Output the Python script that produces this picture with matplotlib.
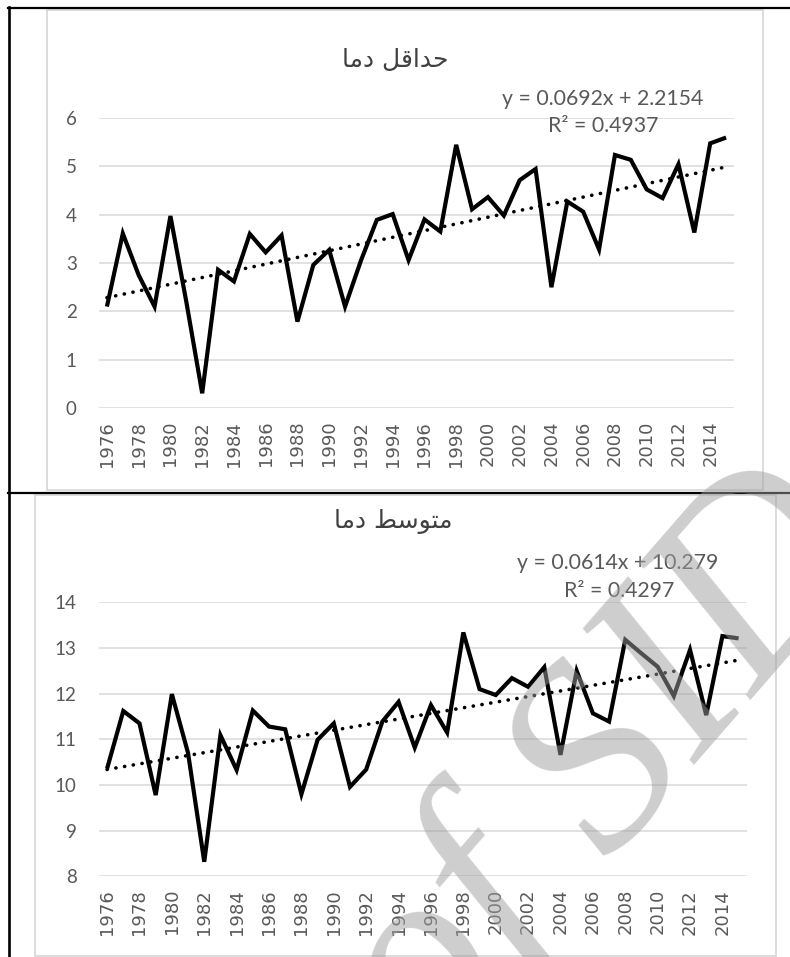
import numpy as np
import matplotlib
matplotlib.use("Agg")
import matplotlib.pyplot as plt
from matplotlib.patches import Rectangle
from matplotlib.lines import Line2D

# ---------------- data ----------------
years = list(range(1976, 2016))
tick_years = list(range(1976, 2016, 2))

min_temp = [2.10, 3.61, 2.75, 2.10, 3.97, 2.20, 0.31, 2.86, 2.62, 3.60,
            3.22, 3.57, 1.79, 2.96, 3.27, 2.10, 3.05, 3.89, 4.01, 3.06,
            3.90, 3.65, 5.44, 4.11, 4.36, 3.98, 4.71, 4.94, 2.50, 4.27,
            4.06, 3.28, 5.23, 5.13, 4.52, 4.34, 5.04, 3.63, 5.47, 5.59]

mean_temp = [10.36, 11.62, 11.35, 9.78, 11.99, 10.70, 8.32, 11.09, 10.33, 11.63,
             11.28, 11.22, 9.80, 10.99, 11.35, 9.96, 10.34, 11.39, 11.82, 10.82,
             11.75, 11.15, 13.34, 12.10, 11.97, 12.34, 12.15, 12.58, 10.66, 12.50,
             11.57, 11.39, 13.18, 12.88, 12.59, 11.95, 12.96, 11.53, 13.26, 13.21]

# trend-line coefficients as printed on the chart
min_slope, min_intercept, min_r2 = 0.0692, 2.2154, 0.4937
mean_slope, mean_intercept, mean_r2 = 0.0614, 10.279, 0.4297

title_min = "\uFE8E\uFEE3\uFEA9 \uFEDE\uFED7\uFE8D\uFEAA\uFEA3"    # حداقل دما (visual order, shaped)
title_mean = "\uFE8E\uFEE3\uFEA9 \uFEC2\uFEB3\uFEEE\uFE98\uFEE3"   # متوسط دما (visual order, shaped)
watermark = "of SID"

# ---------------- figure ----------------
W, H = 790, 957
fig = plt.figure(figsize=(W / 100, H / 100), dpi=100)
fig.patch.set_facecolor("white")

def fx(px):
    return px / W

def fy(py):
    return 1 - py / H

GRID = "#d9d9d9"
TXT = "#595959"

# chart frames
fig.patches.append(Rectangle((fx(47), fy(490)), fx(763) - fx(47), fy(9.5) - fy(490),
                             transform=fig.transFigure, fill=False, edgecolor=GRID, lw=1.3, zorder=0))
fig.patches.append(Rectangle((fx(35), fy(955.5)), fx(776) - fx(35), fy(495) - fy(955.5),
                             transform=fig.transFigure, fill=False, edgecolor=GRID, lw=1.3, zorder=0))

# table lines
fig.lines.append(Line2D([fx(9), fx(9)], [0, fy(7)], transform=fig.transFigure, color="black", lw=1.9))
fig.lines.append(Line2D([fx(8), 1], [fy(7.5), fy(7.5)], transform=fig.transFigure, color="black", lw=1.6))
fig.lines.append(Line2D([fx(8), 1], [fy(493), fy(493)], transform=fig.transFigure, color="black", lw=1.6))


def make_panel(rect, values, ylim, yticks, slope, intercept, r2, title, title_xy, eq_xy, r2_xy):
    ax = fig.add_axes(rect)
    x = np.arange(len(years))
    ax.plot(x, values, color="black", lw=3.0, solid_joinstyle="miter", solid_capstyle="butt", zorder=3)
    trend = intercept + slope * (x + 1)
    ax.plot(x, trend, color="black", lw=2.6, linestyle=(0, (0.05, 2.4)),
            dash_capstyle="round", zorder=2)
    ax.set_xlim(-0.5, len(years) - 0.5)
    ax.set_ylim(*ylim)
    ax.set_yticks(yticks)
    ax.set_yticklabels([str(t) for t in yticks], fontfamily="Lato", fontsize=13.5, color=TXT)
    ax.set_xticks([years.index(t) for t in tick_years])
    ax.set_xticklabels([str(t) for t in tick_years], rotation=90, fontfamily="DejaVu Sans",
                       fontsize=13, color=TXT)
    ax.tick_params(axis="y", length=0, pad=16)
    ax.tick_params(axis="x", length=0, pad=9)
    for s in ax.spines.values():
        s.set_visible(False)
    ax.yaxis.grid(True, color=GRID, lw=1.1)
    ax.set_axisbelow(True)
    ax.patch.set_alpha(0)
    fig.text(fx(title_xy[0]), fy(title_xy[1]), title, ha="center", va="center",
             fontfamily="DejaVu Sans", fontsize=18, color="#404040")
    fig.text(fx(eq_xy[0]), fy(eq_xy[1]), f"y = {slope:.4f}x + {intercept:g}", ha="center", va="center",
             fontfamily="Lato", fontsize=15.3, color=TXT)
    fig.text(fx(r2_xy[0]), fy(r2_xy[1]), f"R² = {r2:.4f}", ha="center", va="center",
             fontfamily="Lato", fontsize=15.3, color=TXT)
    return ax


ax1 = make_panel([fx(99), fy(408.3), fx(734) - fx(99), fy(117.7) - fy(408.3)],
                 min_temp, (0, 6), list(range(0, 7)), min_slope, min_intercept, min_r2,
                 title_min, (395, 60), (603, 99), (603, 126))
ax2 = make_panel([fx(99), fy(876.4), fx(746.7) - fx(99), fy(602.3) - fy(876.4)],
                 mean_temp, (8, 14), list(range(8, 15)), mean_slope, mean_intercept, mean_r2,
                 title_mean, (393, 522), (618, 563), (619, 591))

# watermark (cut by the figure edge, as in the reference)
fig.text(fx(605), fy(768), watermark, ha="center", va="center", rotation=49,
         fontfamily="Liberation Serif", fontstyle="italic", fontsize=190,
         color=(0.62, 0.62, 0.62), alpha=0.5, zorder=10)

fig.savefig("out.png", dpi=100)
